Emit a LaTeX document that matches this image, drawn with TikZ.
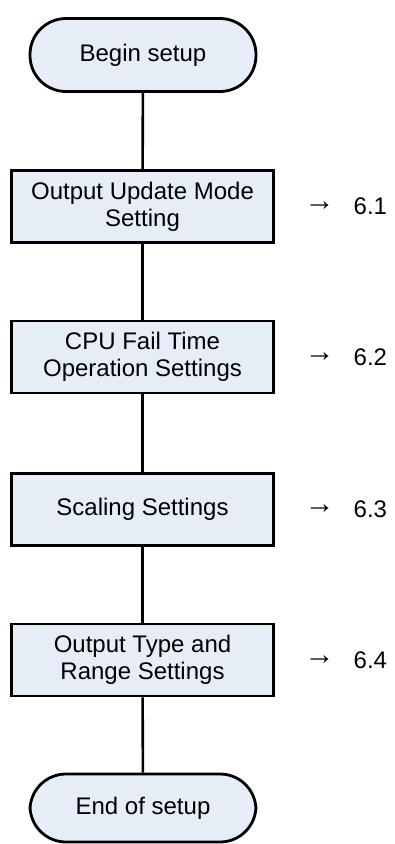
\documentclass[tikz,border=0pt]{standalone}
\usepackage{fontspec}
\setmainfont{Liberation Sans}
\usetikzlibrary{calc}
\definecolor{boxfill}{RGB}{231,237,247}
\begin{document}
\begin{tikzpicture}[x=1pt,y=-1pt,
  every node/.style={font=\fontsize{24}{27}\selectfont},
  term/.style={draw=black,line width=2.8pt,fill=boxfill,rounded corners=36pt,
    minimum width=226pt,inner sep=0pt,align=center},
  procbox/.style={draw=black,line width=2.8pt,fill=boxfill,minimum width=262pt,
    minimum height=72pt,inner sep=0pt,align=center},
  conn/.style={draw=black,line width=2.6pt},
  reflabel/.style={inner sep=0pt,anchor=west}]
\useasboundingbox (0,0) rectangle (395,844);
\node[term,minimum height=73pt] (begin) at (143,55) {Begin setup};
\node[procbox] (b1) at (142.5,206.5) {Output Update Mode\\Setting};
\node[procbox] (b2) at (142.5,357) {CPU Fail Time\\Operation Settings};
\node[procbox] (b3) at (142.5,509.5) {Scaling Settings};
\node[procbox] (b4) at (142.5,660) {Output Type and\\Range Settings};
\node[term,minimum height=68pt] (end) at (143,808) {End of setup};
\draw[conn] (begin) -- (b1);
\draw[conn] (b1) -- (b2);
\draw[conn] (b2) -- (b3);
\draw[conn] (b3) -- (b4);
\draw[conn] (b4) -- (end);
\foreach \i/\n in {1/6.1,2/6.2,3/6.3,4/6.4}{
  \node[reflabel,font=\fontsize{30}{30}\selectfont] (a\i) at ($(b\i.center)+(162,0)$) {→};
  \node[reflabel] (r\i) at ($(b\i.center)+(211,0)$) {\n};
}
\end{tikzpicture}
\end{document}
